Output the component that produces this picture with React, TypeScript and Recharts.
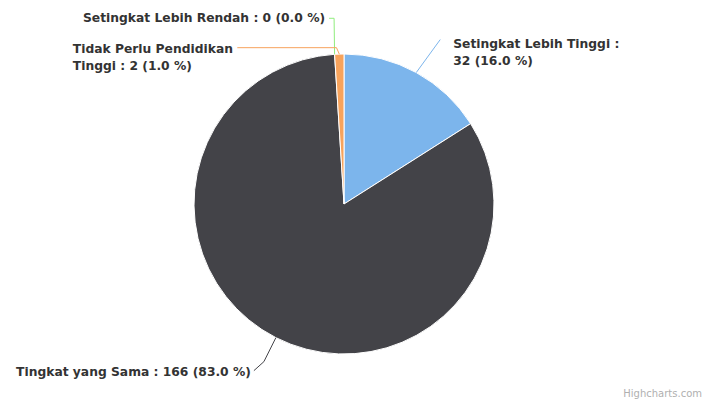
import React from 'react';
import { PieChart, Pie, Cell } from 'recharts';

const categories = [
  'Setingkat Lebih Tinggi',
  'Tingkat yang Sama',
  'Setingkat Lebih Rendah',
  'Tidak Perlu Pendidikan Tinggi',
];
const values = [32, 166, 0, 2];
const colors = ['#7cb5ec', '#434348', '#90ed7d', '#f7a35c'];

const data = categories.map((name, i) => ({ name, value: values[i] }));

// Label layout, relative to the slice's outer edge point (offsets only)
type Layout = {
  anchor: 'start' | 'end';
  dx: number;
  dy: number;
  breakAt: number; // tokens on first line (0 = no wrap)
  path: [number, number][];
};
const layouts: Layout[] = [
  { anchor: 'start', dx: 37, dy: -25, breakAt: 4, path: [[24, -33]] },
  { anchor: 'end', dx: -25, dy: 38.5, breakAt: 0, path: [[-12, 24], [-22, 33]] },
  { anchor: 'end', dx: -9.5, dy: -31.8, breakAt: 0, path: [[-0.5, -36], [-5.5, -36]] },
  { anchor: 'start', dx: -266.5, dy: -1.2, breakAt: 3, path: [[-2.8, -6.4], [-102, -6.4]] },
];

const RAD = Math.PI / 180;
const FONT = '"DejaVu Sans", Verdana, sans-serif';

const renderLabel = (props: any) => {
  const { cx, cy, midAngle, outerRadius, index, value, percent, name } = props;
  const lay = layouts[index];
  if (!lay) return null;
  const ex = cx + outerRadius * Math.cos(-midAngle * RAD);
  const ey = cy + outerRadius * Math.sin(-midAngle * RAD);
  const full = `${name} : ${value} (${(percent * 100).toFixed(1)} %)`;
  const tokens = full.split(' ');
  const lines =
    lay.breakAt > 0
      ? [tokens.slice(0, lay.breakAt).join(' '), tokens.slice(lay.breakAt).join(' ')]
      : [full];
  const pts = [[ex, ey], ...lay.path.map(([px, py]) => [ex + px, ey + py])];
  const d = pts.map((p, i) => `${i === 0 ? 'M' : 'L'}${p[0]},${p[1]}`).join(' ');
  return (
    <g key={`lbl-${index}`}>
      <path d={d} stroke={colors[index]} strokeWidth={1} fill="none" />
      <text
        x={ex + lay.dx}
        y={ey + lay.dy}
        textAnchor={lay.anchor}
        fontFamily={FONT}
        fontSize={12.3}
        fontWeight="bold"
        fill="#333333"
      >
        {lines.map((ln, i) => (
          <tspan key={i} x={ex + lay.dx} dy={i === 0 ? 0 : 17}>
            {ln}
          </tspan>
        ))}
      </text>
    </g>
  );
};

export default function App() {
  return (
    <div style={{ position: 'absolute', left: 0, top: 0, width: 718, height: 406, background: '#fff' }}>
      <PieChart width={718} height={406} margin={{ top: 0, right: 0, bottom: 0, left: 0 }}>
        <Pie
          data={data}
          dataKey="value"
          nameKey="name"
          cx={344}
          cy={204}
          outerRadius={150}
          startAngle={90}
          endAngle={-270}
          stroke="#ffffff"
          strokeWidth={1}
          label={renderLabel}
          labelLine={false}
          isAnimationActive={false}
        >
          {data.map((d, i) => (
            <Cell key={d.name} fill={colors[i]} />
          ))}
        </Pie>
        <text
          x={702}
          y={397}
          textAnchor="end"
          fontFamily={FONT}
          fontSize={10}
          fill="#b0b0b0"
        >
          Highcharts.com
        </text>
      </PieChart>
    </div>
  );
}
